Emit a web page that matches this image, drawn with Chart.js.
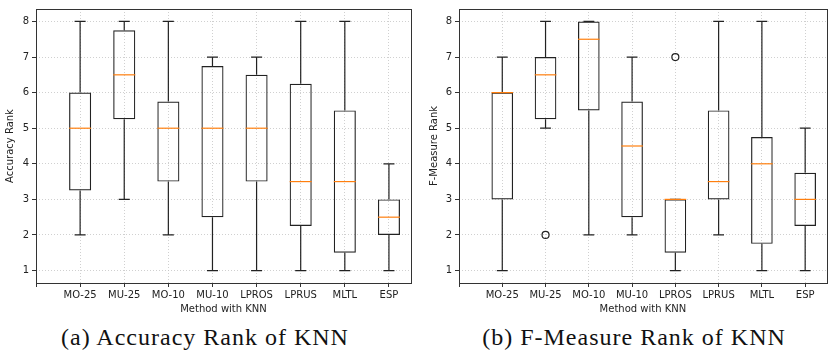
<!DOCTYPE html>
<html>
<head>
<meta charset="utf-8">
<script src="https://cdn.jsdelivr.net/npm/chart.js@4.4.0/dist/chart.umd.min.js"></script>
<style>
  body { margin: 0; background: #fff; width: 832px; height: 355px; position: relative; overflow: hidden; }
  canvas { position: absolute; top: 0; }
  #c1 { left: 0; }
  #c2 { left: 412px; }
  .cap {
    position: absolute; top: 324px; line-height: 26px;
    font-family: "Liberation Serif", serif; font-size: 24px; letter-spacing: 1px;
    white-space: nowrap; transform: translateX(-50%); color: #111;
  }
</style>
</head>
<body>
<canvas id="c1" width="412" height="318"></canvas>
<canvas id="c2" width="420" height="318"></canvas>
<div class="cap" style="left:205px">(a) Accuracy Rank of KNN</div>
<div class="cap" style="left:634px">(b) F-Measure Rank of KNN</div>
<script>
const methods = ["MO-25", "MU-25", "MO-10", "MU-10", "LPROS", "LPRUS", "MLTL", "ESP"];
const yTicks = [1, 2, 3, 4, 5, 6, 7, 8];

// Accuracy rank (whisker low, q1, median, q3, whisker high)
const accLow = [2, 3, 2, 1, 1, 1, 1, 1];
const accQ1 = [3.25, 5.25, 3.5, 2.5, 3.5, 2.25, 1.5, 2];
const accMed = [5, 6.5, 5, 5, 5, 3.5, 3.5, 2.5];
const accQ3 = [6, 7.75, 5.75, 6.75, 6.5, 6.25, 5.5, 3];
const accHigh = [8, 8, 8, 7, 7, 8, 8, 4];
const accOutMethod = [];
const accOutValue = [];

// F-Measure rank
const fmLow = [1, 5, 2, 2, 1, 2, 1, 1];
const fmQ1 = [3, 5.25, 5.5, 2.5, 1.5, 3, 1.75, 2.25];
const fmMed = [6, 6.5, 7.5, 4.5, 3, 3.5, 4, 3];
const fmQ3 = [6, 7, 8, 5.75, 3, 5.5, 4.75, 3.75];
const fmHigh = [7, 8, 8, 7, 3, 8, 8, 5];
const fmOutMethod = ["MU-25", "LPROS"];
const fmOutValue = [2, 7];

const font = { family: "DejaVu Sans", size: 10 };
const ink = "#222";

// whiskers, caps and medians
const boxPlugin = {
  id: "boxParts",
  afterDatasetsDraw(chart, args, opts) {
    const { ctx } = chart;
    const x = chart.scales.x, y = chart.scales.y;
    const bars = chart.getDatasetMeta(0).data;
    ctx.save();
    ctx.lineWidth = 1.2;
    for (let i = 0; i < methods.length; i++) {
      const cx = x.getPixelForValue(i + 1);
      const hw = bars[i].width / 2;
      const yLow = y.getPixelForValue(opts.low[i]);
      const yQ1 = y.getPixelForValue(opts.q1[i]);
      const yQ3 = y.getPixelForValue(opts.q3[i]);
      const yHigh = y.getPixelForValue(opts.high[i]);
      const yMed = y.getPixelForValue(opts.med[i]);
      ctx.strokeStyle = ink;
      ctx.beginPath();
      ctx.moveTo(cx, yQ1); ctx.lineTo(cx, yLow);
      ctx.moveTo(cx, yQ3); ctx.lineTo(cx, yHigh);
      ctx.moveTo(cx - hw / 2, yLow); ctx.lineTo(cx + hw / 2, yLow);
      ctx.moveTo(cx - hw / 2, yHigh); ctx.lineTo(cx + hw / 2, yHigh);
      ctx.stroke();
      ctx.strokeStyle = "#ff7f0e";
      ctx.beginPath();
      ctx.moveTo(cx - hw, yMed); ctx.lineTo(cx + hw, yMed);
      ctx.stroke();
    }
    ctx.restore();
  }
};

// box frame around plot area
const framePlugin = {
  id: "frame",
  afterDraw(chart) {
    const { ctx, chartArea: a } = chart;
    ctx.save();
    ctx.strokeStyle = "#333";
    ctx.lineWidth = 1;
    ctx.strokeRect(Math.round(a.left) + 0.5, Math.round(a.top) + 0.5,
      Math.round(a.right - a.left), Math.round(a.bottom - a.top));
    ctx.restore();
  }
};

function makeChart(id, yTitle, low, q1, med, q3, high, outM, outV, pad, yWidth) {
  return new Chart(document.getElementById(id), {
    type: "bar",
    data: {
      datasets: [
        {
          data: methods.map((m, i) => ({ x: i + 1, y: [q1[i], q3[i]] })),
          backgroundColor: "rgba(0,0,0,0)",
          borderColor: ink,
          borderWidth: 1.2,
          borderSkipped: false,
          barPercentage: 0.5,
          categoryPercentage: 1,
        },
        {
          type: "scatter",
          data: outM.map((m, i) => ({ x: methods.indexOf(m) + 1, y: outV[i] })),
          pointStyle: "circle",
          pointRadius: 3.5,
          borderColor: ink,
          borderWidth: 1.2,
          backgroundColor: "rgba(0,0,0,0)",
        },
      ],
    },
    options: {
      responsive: false,
      animation: false,
      layout: { padding: pad },
      plugins: {
        legend: { display: false },
        tooltip: { enabled: false },
        boxParts: { low, q1, med, q3, high },
      },
      scales: {
        x: {
          type: "linear",
          min: 0,
          max: 8.5,
          offset: false,
          afterBuildTicks: (s) => {
            s.ticks = [0, 1, 2, 3, 4, 5, 6, 7, 8].map((v) => ({ value: v }));
          },
          afterFit: (s) => { s.height = 35; },
          ticks: {
            callback: (v) => methods[v - 1] || "",
            font, color: ink, padding: 2, autoSkip: false, maxRotation: 0,
          },
          grid: { offset: false, color: "#c4c4c4", lineWidth: 0.8, tickColor: "#333", tickWidth: 1, tickLength: 4, tickBorderDash: [] },
          border: { display: false, dash: [1, 2] },
          title: { display: true, text: "Method with KNN", font, color: ink, padding: { top: 2, bottom: 3 } },
        },
        y: {
          min: 0.65,
          max: 8.35,
          afterBuildTicks: (s) => {
            s.ticks = yTicks.map((v) => ({ value: v }));
          },
          afterFit: (s) => { s.width = yWidth; },
          ticks: { font, color: ink, padding: 3 },
          grid: { color: "#c4c4c4", lineWidth: 0.8, tickColor: "#333", tickWidth: 1, tickLength: 4, tickBorderDash: [] },
          border: { display: false, dash: [1, 2] },
          title: { display: true, text: yTitle, font, color: ink, padding: { top: 4, bottom: 2 } },
        },
      },
    },
    plugins: [boxPlugin, framePlugin],
  });
}

makeChart("c1", "Accuracy Rank", accLow, accQ1, accMed, accQ3, accHigh, accOutMethod, accOutValue,
  { left: 0, top: 3, right: 1, bottom: 0 }, 36);
makeChart("c2", "F-Measure Rank", fmLow, fmQ1, fmMed, fmQ3, fmHigh, fmOutMethod, fmOutValue,
  { left: 12, top: 4, right: 2, bottom: 0 }, 35);
</script>
</body>
</html>
